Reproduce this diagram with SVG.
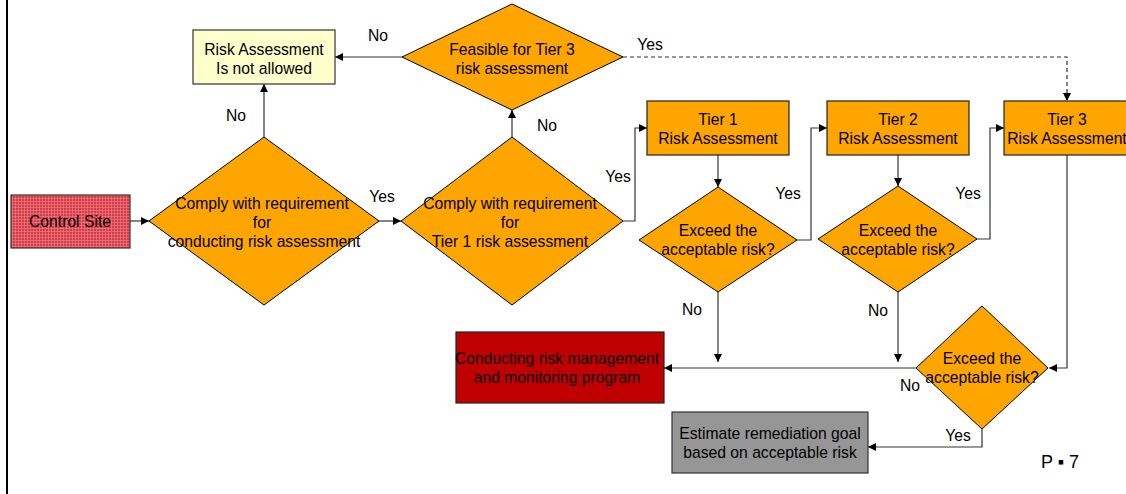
<svg xmlns="http://www.w3.org/2000/svg" width="1126" height="494" viewBox="0 0 1126 494">
<style>
text{font-family:"Liberation Sans",Arial,sans-serif;font-size:15.7px;fill:#000;text-anchor:middle}
.dia{fill:#FFA500;stroke:#000;stroke-width:1}
.box{fill:#FFA500;stroke:#222;stroke-width:1.2}
.c{fill:none;stroke:#333;stroke-width:1.2}
.d{fill:none;stroke:#333;stroke-width:1.2;stroke-dasharray:4 3}
</style>
<defs>
<marker id="ah" viewBox="0 0 10 10" refX="10" refY="5" markerWidth="8" markerHeight="8" markerUnits="userSpaceOnUse" orient="auto"><path d="M0,0 L10,5 L0,10 z" fill="#000"/></marker>
<pattern id="grid" width="3" height="3" patternUnits="userSpaceOnUse"><rect width="3" height="3" fill="#D63A46"/><path d="M0,0.5 H3 M0.5,0 V3" stroke="#EC7C84" stroke-width="0.7"/></pattern>
</defs>
<rect width="1126" height="494" fill="#fff"/>
<line x1="7" y1="0" x2="7" y2="494" stroke="#000" stroke-width="2"/>

<g id="connectors">
<line class="c" x1="130" y1="221" x2="149" y2="221" marker-end="url(#ah)"/>
<line class="c" x1="379" y1="221" x2="401" y2="221" marker-end="url(#ah)"/>
<line class="c" x1="264" y1="137" x2="264" y2="84" marker-end="url(#ah)"/>
<line class="c" x1="512" y1="137" x2="512" y2="110" marker-end="url(#ah)"/>
<line class="c" x1="402" y1="57" x2="335" y2="57" marker-end="url(#ah)"/>
<polyline class="d" points="623,57 1067,57 1067,101" marker-end="url(#ah)"/>
<polyline class="c" points="623,221 635,221 635,128 647,128" marker-end="url(#ah)"/>
<line class="c" x1="718" y1="155" x2="718" y2="187" marker-end="url(#ah)"/>
<polyline class="c" points="797,240 811,240 811,128 827,128" marker-end="url(#ah)"/>
<line class="c" x1="898" y1="155" x2="898" y2="186" marker-end="url(#ah)"/>
<polyline class="c" points="977,239 990,239 990,128 1004,128" marker-end="url(#ah)"/>
<polyline class="c" points="1067,155 1067,368 1049,368" marker-end="url(#ah)"/>
<line class="c" x1="718" y1="292" x2="718" y2="362" marker-end="url(#ah)"/>
<line class="c" x1="898" y1="292" x2="898" y2="362" marker-end="url(#ah)"/>
<line class="c" x1="916" y1="368" x2="664" y2="368" marker-end="url(#ah)"/>
<polyline class="c" points="982,429 982,447 868,447" marker-end="url(#ah)"/>
<text x="378" y="41">No</text>
<text x="650" y="50">Yes</text>
<text x="236" y="121">No</text>
<text x="382" y="202">Yes</text>
<text x="547" y="131">No</text>
<text x="618" y="182">Yes</text>
<text x="788" y="199">Yes</text>
<text x="968" y="199">Yes</text>
<text x="692" y="315">No</text>
<text x="878" y="316">No</text>
<text x="910" y="391">No</text>
<text x="958" y="441">Yes</text>
</g>

<g id="not-allowed">
<rect x="193" y="30" width="142" height="54" fill="#FFFFCC" stroke="#333" stroke-width="1.2"/>
<text x="264" y="55">Risk Assessment</text>
<text x="264" y="74">Is not allowed</text>
</g>

<g id="feasible">
<polygon class="dia" points="512,4 623,57 512,110 402,57"/>
<text x="512" y="55">Feasible for Tier 3</text>
<text x="512" y="74">risk assessment</text>
</g>

<g id="control-site">
<rect x="11" y="195" width="119" height="53" fill="url(#grid)" stroke="#333" stroke-width="1.2"/>
<text x="70" y="227">Control Site</text>
</g>

<g id="comply1">
<polygon class="dia" points="264,137 379,221 264,305 149,221"/>
<text x="262" y="209">Comply with requirement</text>
<text x="262" y="228">for</text>
<text x="264" y="247">conducting risk assessment</text>
</g>

<g id="comply2">
<polygon class="dia" points="512,137 623,221 512,305 401,221"/>
<text x="510" y="209">Comply with requirement</text>
<text x="510" y="228">for</text>
<text x="510" y="247">Tier 1 risk assessment</text>
</g>

<g id="tier1">
<rect class="box" x="647" y="101" width="142" height="54"/>
<text x="718" y="125">Tier 1</text>
<text x="718" y="144">Risk Assessment</text>
</g>

<g id="tier2">
<rect class="box" x="827" y="101" width="142" height="54"/>
<text x="898" y="125">Tier 2</text>
<text x="898" y="144">Risk Assessment</text>
</g>

<g id="tier3">
<rect class="box" x="1004" y="101" width="130" height="54"/>
<text x="1067" y="125">Tier 3</text>
<text x="1067" y="144">Risk Assessment</text>
</g>

<g id="exceed1">
<polygon class="dia" points="718,187 797,240 718,292 639,240"/>
<text x="718" y="236">Exceed the</text>
<text x="718" y="255">acceptable risk?</text>
</g>

<g id="exceed2">
<polygon class="dia" points="898,186 977,239 898,292 818,239"/>
<text x="898" y="236">Exceed the</text>
<text x="898" y="255">acceptable risk?</text>
</g>

<g id="exceed3">
<polygon class="dia" points="982,306 1048,368 982,429 916,368"/>
<text x="982" y="364">Exceed the</text>
<text x="982" y="383">acceptable risk?</text>
</g>

<g id="management">
<rect x="456" y="332" width="208" height="71" fill="#C00000" stroke="#222" stroke-width="1.2"/>
<text x="557" y="364">Conducting risk management</text>
<text x="557" y="383">and monitoring program</text>
</g>

<g id="remediation">
<rect x="672" y="412" width="196" height="61" fill="#969696" stroke="#333" stroke-width="1.2"/>
<text x="770" y="439">Estimate remediation goal</text>
<text x="770" y="458">based on acceptable risk</text>
</g>

<text x="1060" y="468" style="font-size:18px">P ▪ 7</text>
</svg>
